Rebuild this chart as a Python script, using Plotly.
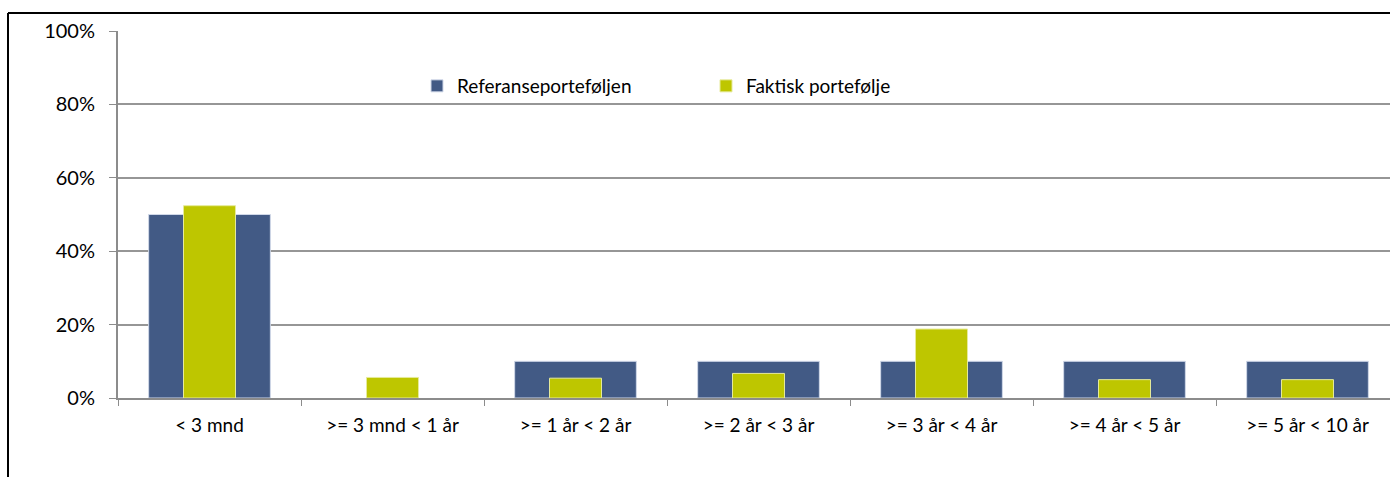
import plotly.graph_objects as go

categories = ["< 3 mnd", ">= 3 mnd < 1 år", ">= 1 år < 2 år", ">= 2 år < 3 år",
              ">= 3 år < 4 år", ">= 4 år < 5 år", ">= 5 år < 10 år"]
referanse = [0.50, 0.0, 0.10, 0.10, 0.10, 0.10, 0.10]
faktisk = [0.524, 0.056, 0.054, 0.067, 0.188, 0.050, 0.050]
y_ticks = [0, 0.2, 0.4, 0.6, 0.8, 1.0]
y_tick_labels = ["0%", "20%", "40%", "60%", "80%", "100%"]

BLUE = "#425A85"
GREEN = "#BEC600"
FONT = "Lato"

fig = go.Figure()
fig.add_trace(go.Bar(x=categories, y=referanse, name="Referanseporteføljen",
                     marker=dict(color=BLUE,
                                 line=dict(color="#D0D8E8",
                                           width=[1 if v > 0 else 0 for v in referanse])),
                     width=0.665))
fig.add_trace(go.Bar(x=categories, y=faktisk, name="Faktisk portefølje",
                     marker=dict(color=GREEN,
                                 line=dict(color="#E6EA9A",
                                           width=[1 if v > 0 else 0 for v in faktisk])),
                     width=0.284))

W, H = 1390, 477
L, T, B = 118, 31, 79
pw = W - L
ph = H - T - B

fig.update_layout(
    width=W, height=H,
    barmode="overlay",
    plot_bgcolor="white", paper_bgcolor="white",
    margin=dict(l=L, r=0, t=T, b=B),
    font=dict(family=FONT, size=19, color="#000000"),
    showlegend=True,
    legend=dict(orientation="h", x=(417 - L) / pw, xanchor="left",
                y=1 - (86 - T) / ph, yanchor="middle",
                entrywidth=244, entrywidthmode="pixels",
                font=dict(family=FONT, size=19), bgcolor="rgba(0,0,0,0)",
                itemclick=False),
    xaxis=dict(range=[-0.5, -0.5 + pw / 183.0], showgrid=False,
               showline=True, linecolor="#8C8C8C", linewidth=2,
               ticks="outside", ticklen=6, tickcolor="#8C8C8C", tickwidth=1,
               tickson="boundaries", ticklabelstandoff=9,
               tickfont=dict(family=FONT, size=19)),
    yaxis=dict(range=[0, 1.0], tickvals=y_ticks, ticktext=y_tick_labels,
               showgrid=True, gridcolor="#969696", gridwidth=1.5,
               showline=True, linecolor="#8C8C8C", linewidth=2,
               ticks="outside", ticklen=7, tickcolor="#8C8C8C", tickwidth=1,
               ticklabelstandoff=10, zeroline=False,
               tickfont=dict(family=FONT, size=20)),
)

# outer chart frame (left and top edges visible)
fx = (8 - L) / pw
fy = (ph + T - 13) / ph
fig.add_shape(type="line", xref="paper", yref="paper", x0=fx, x1=fx, y0=fy, y1=-0.5,
              line=dict(color="#000000", width=2))
fig.add_shape(type="line", xref="paper", yref="paper", x0=fx, x1=1.05, y0=fy, y1=fy,
              line=dict(color="#000000", width=2))

fig.write_html("out.html", config={"displayModeBar": False},
               post_script="document.body.style.margin='0';document.body.style.overflow='hidden';")
